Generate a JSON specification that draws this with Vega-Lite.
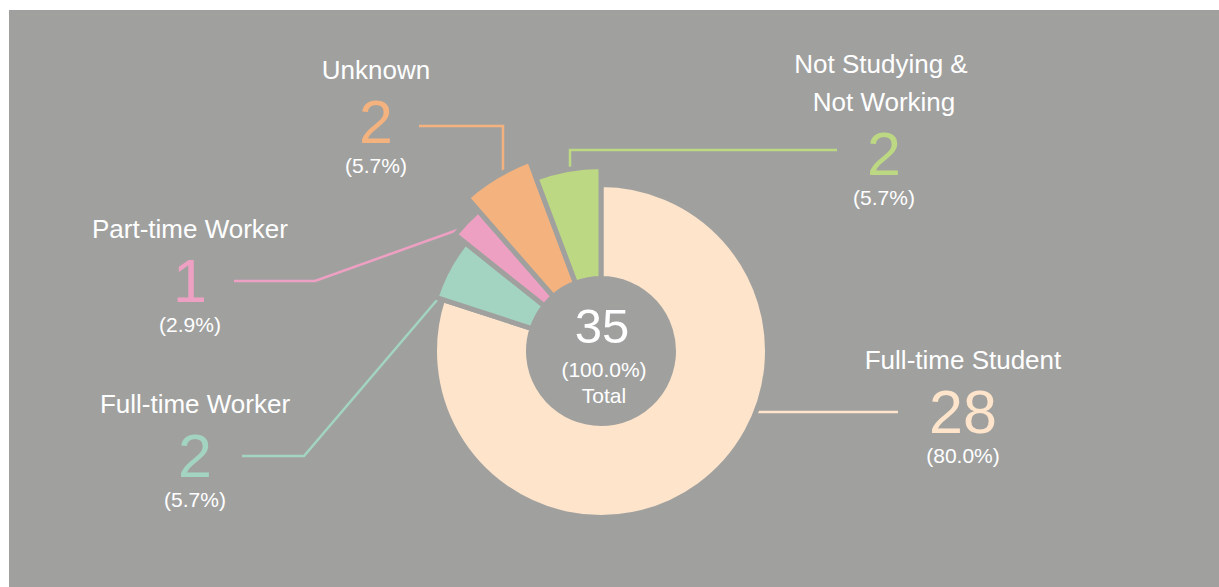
{
  "$schema": "https://vega.github.io/schema/vega-lite/v6.json",
  "width": 1219,
  "height": 587,
  "autosize": {"type": "fit", "contains": "padding"},
  "padding": {"left": 9, "top": 10, "right": 0, "bottom": 0},
  "background": "white",
  "config": {"view": {"fill": "#a0a19f", "stroke": null}, "font": "Liberation Sans"},
  "datasets": {
    "status": [
      {"category": "Full-time Student", "count": 28, "pct": "(80.0%)", "order": 1, "title": "Full-time Student", "title_first": null, "lx": 362, "ly": -82},
      {"category": "Full-time Worker", "count": 2, "pct": "(5.7%)", "order": 2, "title": "Full-time Worker", "title_first": null, "lx": -406, "ly": -126},
      {"category": "Part-time Worker", "count": 1, "pct": "(2.9%)", "order": 3, "title": "Part-time Worker", "title_first": null, "lx": -411, "ly": 49},
      {"category": "Unknown", "count": 2, "pct": "(5.7%)", "order": 4, "title": "Unknown", "title_first": null, "lx": -225, "ly": 208},
      {"category": "Not Studying & Not Working", "count": 2, "pct": "(5.7%)", "order": 5, "title": "Not Working", "title_first": "Not Studying &", "lx": 283, "ly": 176}
    ],
    "leaders": [
      {"category": "Full-time Student", "pt": 1, "x": 152, "y": -61},
      {"category": "Full-time Student", "pt": 2, "x": 297, "y": -61},
      {"category": "Not Studying & Not Working", "pt": 1, "x": -31, "y": 179},
      {"category": "Not Studying & Not Working", "pt": 2, "x": -31, "y": 201},
      {"category": "Not Studying & Not Working", "pt": 3, "x": 236, "y": 201},
      {"category": "Unknown", "pt": 1, "x": -182, "y": 225},
      {"category": "Unknown", "pt": 2, "x": -98, "y": 225},
      {"category": "Unknown", "pt": 3, "x": -98, "y": 179},
      {"category": "Part-time Worker", "pt": 1, "x": -367, "y": 70},
      {"category": "Part-time Worker", "pt": 2, "x": -286, "y": 70},
      {"category": "Part-time Worker", "pt": 3, "x": -138, "y": 123},
      {"category": "Full-time Worker", "pt": 1, "x": -359, "y": -105},
      {"category": "Full-time Worker", "pt": 2, "x": -297, "y": -105},
      {"category": "Full-time Worker", "pt": 3, "x": -158, "y": 58}
    ]
  },
  "encoding": {
    "color": {
      "field": "category",
      "type": "nominal",
      "legend": null,
      "scale": {
        "domain": ["Full-time Student", "Full-time Worker", "Part-time Worker", "Unknown", "Not Studying & Not Working"],
        "range": ["#fde4cb", "#a3d4c1", "#eea0c3", "#f4b27e", "#bdd882"]
      }
    }
  },
  "layer": [
    {
      "data": {"name": "leaders"},
      "mark": {"type": "line", "strokeWidth": 2.5},
      "encoding": {
        "x": {"field": "x", "type": "quantitative", "axis": null, "scale": {"domain": [-592, 618], "nice": false, "zero": false}},
        "y": {"field": "y", "type": "quantitative", "axis": null, "scale": {"domain": [-236, 341], "nice": false, "zero": false}},
        "detail": {"field": "category"},
        "order": {"field": "pt", "type": "quantitative"}
      }
    },
    {
      "data": {"name": "status"},
      "transform": [
        {"stack": "count", "groupby": [], "sort": [{"field": "order", "order": "ascending"}], "as": ["t0", "t1"]}
      ],
      "encoding": {
        "x": {"datum": 0, "type": "quantitative"},
        "y": {"datum": 0, "type": "quantitative"},
        "theta": {"field": "t0", "type": "quantitative", "scale": {"domain": [0, 35]}},
        "theta2": {"field": "t1"}
      },
      "layer": [
        {
          "transform": [{"filter": "datum.category == 'Full-time Student'"}],
          "mark": {"type": "arc", "radius": 166.5, "radius2": 72.5, "stroke": "#a0a19f", "strokeWidth": 5}
        },
        {
          "transform": [{"filter": "datum.category == 'Full-time Worker'"}],
          "mark": {"type": "arc", "radius": 173.5, "radius2": 72.5, "stroke": "#a0a19f", "strokeWidth": 5}
        },
        {
          "transform": [{"filter": "datum.category == 'Part-time Worker'"}],
          "mark": {"type": "arc", "radius": 186.5, "radius2": 72.5, "stroke": "#a0a19f", "strokeWidth": 5}
        },
        {
          "transform": [{"filter": "datum.category == 'Unknown'"}],
          "mark": {"type": "arc", "radius": 203.5, "radius2": 72.5, "stroke": "#a0a19f", "strokeWidth": 5}
        },
        {
          "transform": [{"filter": "datum.category == 'Not Studying & Not Working'"}],
          "mark": {"type": "arc", "radius": 184.5, "radius2": 72.5, "stroke": "#a0a19f", "strokeWidth": 5}
        }
      ]
    },
    {
      "data": {"name": "status"},
      "encoding": {
        "x": {"field": "lx", "type": "quantitative"},
        "y": {"field": "ly", "type": "quantitative"}
      },
      "layer": [
        {
          "mark": {"type": "text", "fontSize": 61, "align": "center", "baseline": "alphabetic"},
          "encoding": {"text": {"field": "count", "type": "quantitative"}}
        },
        {
          "mark": {"type": "text", "fontSize": 26, "align": "center", "baseline": "alphabetic", "dy": -64},
          "encoding": {"text": {"field": "title", "type": "nominal"}, "color": {"value": "white"}}
        },
        {
          "transform": [{"filter": "isValid(datum.title_first)"}],
          "mark": {"type": "text", "fontSize": 26, "align": "center", "baseline": "alphabetic", "dy": -102, "dx": -3},
          "encoding": {"text": {"field": "title_first", "type": "nominal"}, "color": {"value": "white"}}
        },
        {
          "mark": {"type": "text", "fontSize": 21, "align": "center", "baseline": "alphabetic", "dy": 30},
          "encoding": {"text": {"field": "pct", "type": "nominal"}, "color": {"value": "white"}}
        }
      ]
    },
    {
      "data": {"name": "status"},
      "transform": [{"aggregate": [{"op": "sum", "field": "count", "as": "total"}]}],
      "encoding": {
        "x": {"datum": 0, "type": "quantitative"},
        "y": {"datum": 0, "type": "quantitative"},
        "color": {"value": "white"}
      },
      "layer": [
        {
          "mark": {"type": "text", "fontSize": 49, "align": "center", "baseline": "alphabetic", "dy": -8, "dx": 1},
          "encoding": {"text": {"field": "total", "type": "quantitative"}}
        },
        {
          "mark": {"type": "text", "fontSize": 21, "align": "center", "baseline": "alphabetic", "dy": 26, "dx": 3, "text": "(100.0%)"}
        },
        {
          "mark": {"type": "text", "fontSize": 21, "align": "center", "baseline": "alphabetic", "dy": 52, "dx": 3, "text": "Total"}
        }
      ]
    }
  ]
}
